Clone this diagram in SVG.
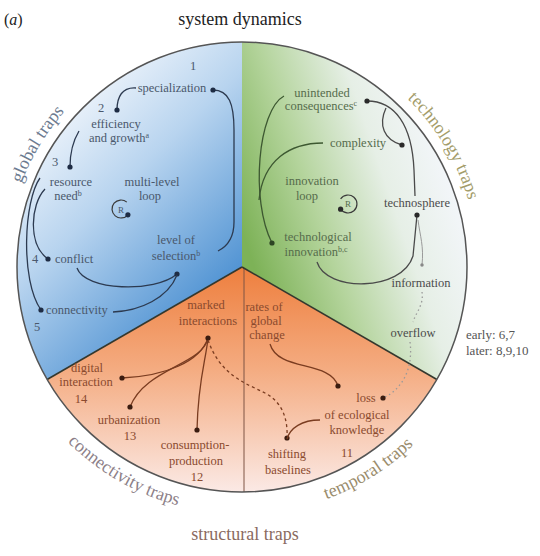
<svg xmlns="http://www.w3.org/2000/svg" width="540" height="556" viewBox="0 0 540 556">
<defs>
<linearGradient id="gBlue" gradientUnits="userSpaceOnUse" x1="60" y1="95" x2="238" y2="280">
<stop offset="0" stop-color="#f3f7fc"/><stop offset="0.42" stop-color="#b8d4ef"/><stop offset="1" stop-color="#4d91d2"/>
</linearGradient>
<linearGradient id="gGreen" gradientUnits="userSpaceOnUse" x1="245" y1="240" x2="450" y2="170">
<stop offset="0" stop-color="#7db257"/><stop offset="0.35" stop-color="#b4d49c"/><stop offset="0.7" stop-color="#e6efe6"/><stop offset="1" stop-color="#f3f6fa"/>
</linearGradient>
<linearGradient id="gOrange" gradientUnits="userSpaceOnUse" x1="0" y1="267" x2="0" y2="492">
<stop offset="0" stop-color="#ee7f3e"/><stop offset="0.45" stop-color="#f4ab80"/><stop offset="1" stop-color="#fbe9e5"/>
</linearGradient>
<marker id="dB" viewBox="0 0 6 6" refX="3" refY="3" markerWidth="6" markerHeight="6" markerUnits="userSpaceOnUse"><circle cx="3" cy="3" r="2.6" fill="#1e2c44"/></marker>
<marker id="dG" viewBox="0 0 6 6" refX="3" refY="3" markerWidth="6" markerHeight="6" markerUnits="userSpaceOnUse"><circle cx="3" cy="3" r="2.6" fill="#2d4424"/></marker>
<marker id="dK" viewBox="0 0 6 6" refX="3" refY="3" markerWidth="6" markerHeight="6" markerUnits="userSpaceOnUse"><circle cx="3" cy="3" r="2.6" fill="#2a2a2a"/></marker>
<marker id="dS" viewBox="0 0 6 6" refX="3" refY="3" markerWidth="4" markerHeight="4" markerUnits="userSpaceOnUse"><circle cx="3" cy="3" r="2.6" fill="#888"/></marker>
<marker id="dO" viewBox="0 0 6 6" refX="3" refY="3" markerWidth="6" markerHeight="6" markerUnits="userSpaceOnUse"><circle cx="3" cy="3" r="2.6" fill="#3a1c10"/></marker>
<path id="arcGlobal" d="M 7.3 242.3 A 236 236 0 0 1 110 71.4"/>
<path id="arcTech" d="M 374 71.4 A 236 236 0 0 1 476.7 242.3"/>
<path id="arcConn" d="M 28.1 390.5 A 247 247 0 0 0 242 514"/>
<path id="arcTemp" d="M 250.6 513.8 A 247 247 0 0 0 460.1 383"/>
<style>
text{font-family:"Liberation Serif","Times New Roman",serif;}
.big{font-size:18px;}
.lab{font-size:12.5px;text-anchor:middle;}
.tb{fill:#4a586c;}
.tg{fill:#566c4c;}
.tk{fill:#4c4c4c;}
.to{fill:#8a4a2e;}
.sup{font-size:8px;}
.cb{fill:none;stroke:#2c3a50;stroke-width:1.3;}
.cg{fill:none;stroke:#3d5831;stroke-width:1.3;}
.ck{fill:none;stroke:#4a4a4a;stroke-width:1.3;}
.cl{fill:none;stroke:#9a9a9a;stroke-width:1;}
.cd{fill:none;stroke:#9a9a9a;stroke-width:1.3;stroke-dasharray:1.5 3;}
.co{fill:none;stroke:#7a3c20;stroke-width:1.3;}
.cod{fill:none;stroke:#7a3c20;stroke-width:1.3;stroke-dasharray:3 3;}
.loop{fill:none;stroke:#3a3a3a;stroke-width:1.2;}
</style>
</defs>
<rect x="0" y="0" width="540" height="556" fill="#ffffff"/>

<g id="sectors">
<path d="M 242 267 L 242 42 A 225 225 0 0 0 47.1 379.5 Z" fill="url(#gBlue)"/>
<path d="M 242 267 L 242 42 A 225 225 0 0 1 436.9 379.5 Z" fill="url(#gGreen)"/>
<path d="M 242 267 L 436.9 379.5 A 225 225 0 0 1 47.1 379.5 Z" fill="url(#gOrange)"/>
<line x1="244" y1="268" x2="244" y2="492" stroke="#7e5444" stroke-width="1"/>
<line x1="242" y1="267" x2="47.1" y2="379.5" stroke="#34382e" stroke-width="1.6"/>
<line x1="242" y1="267" x2="436.9" y2="379.5" stroke="#34382e" stroke-width="1.6"/>
<circle cx="242" cy="267" r="225" fill="none" stroke="#555" stroke-width="1.5"/>
</g>

<g id="titles">
<text x="4" y="25" style="font-size:16px" fill="#222">(<tspan font-style="italic">a</tspan>)</text>
<text x="240" y="25" class="big" text-anchor="middle" fill="#222">system dynamics</text>
<text class="big" fill="#6d7b90"><textPath href="#arcGlobal" startOffset="50%" text-anchor="middle">global traps</textPath></text>
<text class="big" fill="#a39c6a"><textPath href="#arcTech" startOffset="50%" text-anchor="middle">technology traps</textPath></text>
<text class="big" fill="#8d7f88"><textPath href="#arcConn" startOffset="50%" text-anchor="middle">connectivity traps</textPath></text>
<text class="big" fill="#9a8c6c"><textPath href="#arcTemp" startOffset="50%" text-anchor="middle">temporal traps</textPath></text>
<text x="245" y="540" class="big" text-anchor="middle" fill="#8a6a60">structural traps</text>
<text x="466" y="339" style="font-size:13px" fill="#555">early: 6,7</text>
<text x="466" y="355" style="font-size:13px" fill="#555">later: 8,9,10</text>
</g>

<g id="connectors">
<path class="cb" d="M 136 88 C 122 87 117 97 117 110" marker-end="url(#dB)"/>
<path class="cb" d="M 213 90 C 229 90 234 104 234 130 L 234 222 C 234 238 228 246 218 251" marker-start="url(#dB)"/>
<path class="cb" d="M 79 131 C 73 141 70 153 70 167" marker-end="url(#dB)"/>
<path class="cb" d="M 45 189 C 30 205 28 245 48 259" marker-end="url(#dB)"/>
<path class="cb" d="M 40 178 C 24 200 20 280 41 310" marker-end="url(#dB)"/>
<path class="cb" d="M 77 268 C 85 291 155 293 177 274" marker-end="url(#dB)"/>
<path class="cb" d="M 177 275 C 168 298 140 311 113 312"/>
<path class="cg" d="M 284 96 C 258 110 250 200 272 243" marker-end="url(#dG)"/>
<path class="cg" d="M 323 143 C 290 143 263 160 259 200"/>
<path class="ck" d="M 367 101 C 395 101 412 125 414 170 L 415 196" marker-start="url(#dK)"/>
<path class="ck" d="M 386 108 C 378 125 384 140 402 145" marker-end="url(#dK)"/>
<path class="ck" d="M 417 215 L 413 256 C 402 292 326 292 317 262" marker-start="url(#dK)"/>
<path class="cl" d="M 418 220 C 420 236 424 246 422 265" marker-end="url(#dS)"/>
<path class="cd" d="M 422 292 C 424 305 416 312 413 322"/>
<path class="cd" d="M 410 342 C 413 365 405 388 383 398" marker-end="url(#dO)"/>
<path class="co" d="M 208 338 C 200 362 165 376 122 378" marker-end="url(#dO)"/>
<path class="co" d="M 208 338 C 203 365 145 368 130 407" marker-end="url(#dO)"/>
<path class="co" d="M 208 338 C 206 360 198 380 197 430" marker-start="url(#dO)" marker-end="url(#dO)"/>
<path class="cod" d="M 208 340 C 220 375 245 383 265 393 C 282 402 288 418 287 438" marker-end="url(#dO)"/>
<path class="co" d="M 270 344 C 278 372 330 360 338 386" marker-end="url(#dO)"/>
<path class="co" d="M 320 420 C 302 420 290 428 287 439"/>
</g>

<g id="n1"><text class="lab tb" x="193" y="70">1</text><text class="lab tb" x="172" y="92">specialization</text></g>
<g id="n2"><text class="lab tb" x="101" y="112">2</text><text class="lab tb" x="116" y="128">efficiency</text><text class="lab tb" x="119" y="142">and growth<tspan class="sup" dy="-4">a</tspan></text></g>
<g id="n3"><text class="lab tb" x="55" y="166">3</text><text class="lab tb" x="71" y="186">resource</text><text class="lab tb" x="68" y="200">need<tspan class="sup" dy="-4">b</tspan></text></g>
<g id="loopB"><text class="lab tb" x="152" y="186">multi-level</text><text class="lab tb" x="150" y="200">loop</text>
<path class="loop" d="M 126.8 202.1 A 9 9 0 1 0 127.9 214.8" marker-end="url(#dB)"/>
<text x="121" y="213" style="font-size:9px" text-anchor="middle" fill="#4a586c">R</text></g>
<g id="n4"><text class="lab tb" x="35" y="263">4</text><text class="tb" style="font-size:12.5px" x="55" y="263">conflict</text></g>
<g id="nSel"><text class="lab tb" x="176" y="244">level of</text><text class="lab tb" x="176" y="260">selection<tspan class="sup" dy="-4">b</tspan></text></g>
<g id="n5"><text class="tb" style="font-size:12.5px" x="46" y="314">connectivity</text><text class="lab tb" x="37" y="331">5</text></g>

<g id="nUnint"><text class="lab tg" x="322" y="97">unintended</text><text class="lab tg" x="321" y="110">consequences<tspan class="sup" dy="-4">c</tspan></text></g>
<g id="nCompl"><text class="lab tg" x="358" y="147">complexity</text></g>
<g id="loopG"><text class="lab tg" x="312" y="185">innovation</text><text class="lab tg" x="307" y="200">loop</text>
<path class="loop" d="M 340.6 198.8 A 9 9 0 1 1 340.6 209.2" marker-end="url(#dK)"/>
<text x="348" y="207" style="font-size:9px" text-anchor="middle" fill="#566c4c">R</text></g>
<g id="nTechInn"><text class="lab tg" x="318" y="241">technological</text><text class="lab tg" x="316" y="256">innovation<tspan class="sup" dy="-4">b,c</tspan></text></g>
<g id="nSphere"><text class="lab tk" x="417" y="207">technosphere</text></g>
<g id="nInfo"><text class="lab tk" x="421" y="287">information</text></g>
<g id="nOver"><text class="lab tk" x="413" y="337">overflow</text></g>

<g id="nMarked"><text class="lab to" x="206" y="309">marked</text><text class="lab to" x="208" y="325">interactions</text></g>
<g id="nRates"><text class="lab to" x="264" y="311">rates of</text><text class="lab to" x="266" y="325">global</text><text class="lab to" x="267" y="339">change</text></g>
<g id="n14"><text class="lab to" x="87" y="372">digital</text><text class="lab to" x="86" y="386">interaction</text><text class="lab to" x="81" y="403">14</text></g>
<g id="n13"><text class="lab to" x="129" y="424">urbanization</text><text class="lab to" x="130" y="440">13</text></g>
<g id="n12"><text class="lab to" x="195" y="449">consumption-</text><text class="lab to" x="196" y="465">production</text><text class="lab to" x="197" y="481">12</text></g>
<g id="n11"><text class="lab to" x="366" y="402">loss</text><text class="lab to" x="357" y="419">of ecological</text><text class="lab to" x="357" y="434">knowledge</text><text class="lab to" x="347" y="457">11</text></g>
<g id="nShift"><text class="lab to" x="287" y="458">shifting</text><text class="lab to" x="288" y="474">baselines</text></g>
</svg>
